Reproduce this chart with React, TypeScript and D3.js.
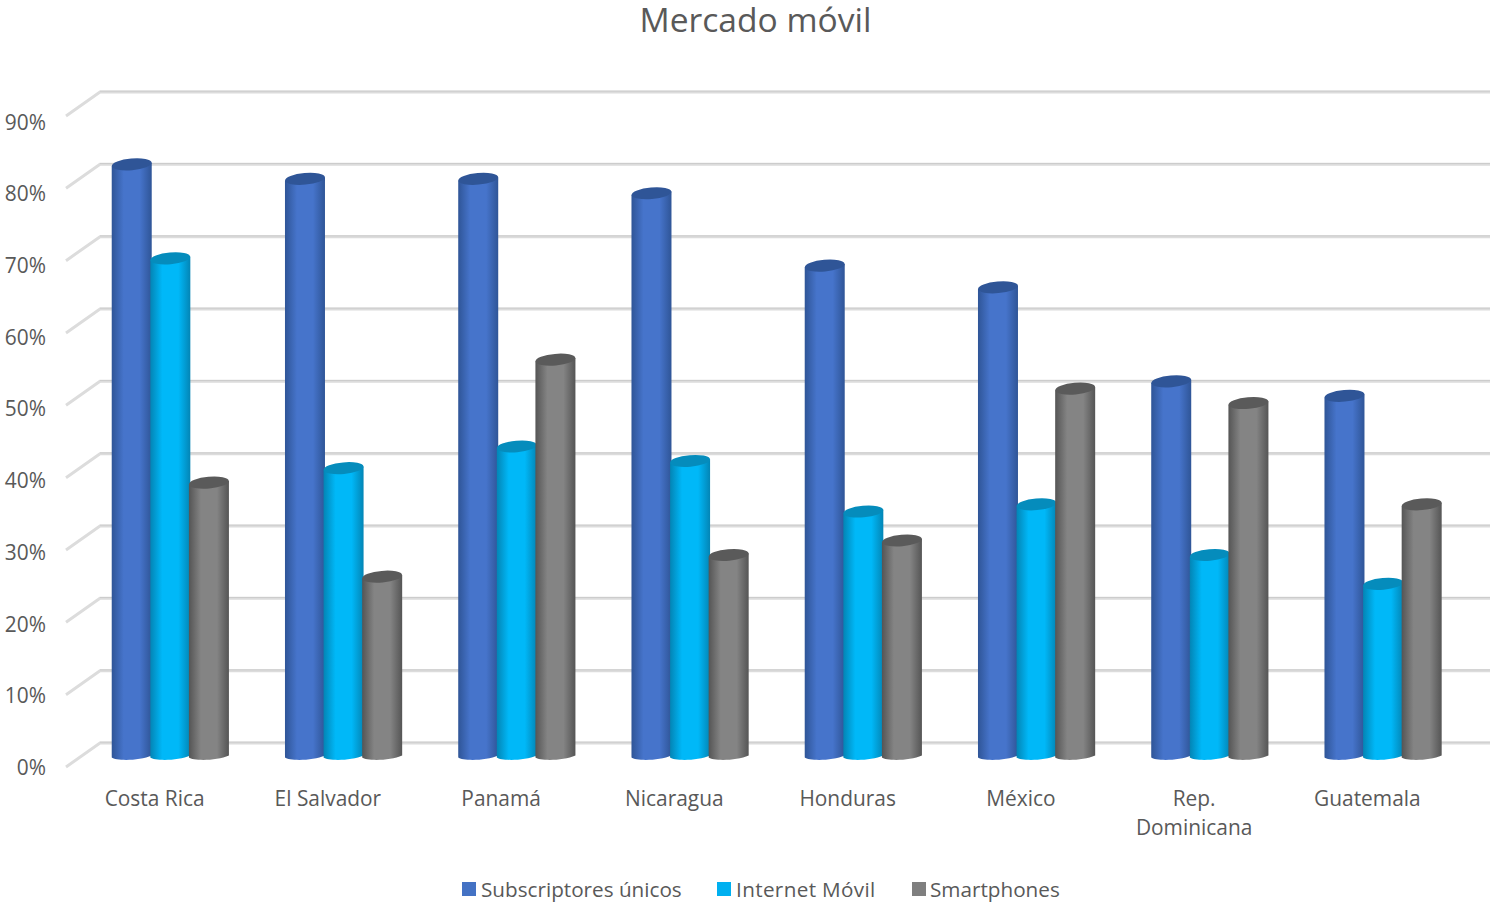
import React from "react";
import * as d3 from "d3";

const categories = ["Costa Rica", "El Salvador", "Panamá", "Nicaragua", "Honduras", "México", "Rep. Dominicana", "Guatemala"];
const subscriptores = [82, 80, 80, 78, 68, 65, 52, 50];
const internetMovil = [69, 40, 43, 41, 34, 35, 28, 24];
const smartphones = [38, 25, 55, 28, 30, 51, 49, 35];
const seriesNames = ["Subscriptores únicos", "Internet Móvil", "Smartphones"];
const seriesValues = [subscriptores, internetMovil, smartphones];
const yTicks = [0, 10, 20, 30, 40, 50, 60, 70, 80, 90];

const palette = [
  { main: "#4674cb", dark: "#2f5597", top: "#2f5597" },
  { main: "#00b8f8", dark: "#0385b5", top: "#058cbc" },
  { main: "#848484", dark: "#555555", top: "#5a5a5a" },
];

const FONT = "'Open Sans', 'Noto Sans', sans-serif";
const TEXT = "#595959";
const W = 1493, H = 903;

// back wall scale
const yWall = d3.scaleLinear().domain([0, 90]).range([743, 92]);
// scale at the depth of the columns
const yBar = d3.scaleLinear().domain([0, 90]).range([757.5, 106.5]);
// tick label baselines
const yLabel = d3.scaleLinear().domain([0, 90]).range([775.2, 129.5]);
const depthDx = -34, depthDy = 24;

const x0 = d3.scaleBand<string>().domain(categories).range([68, 1454]).paddingInner(0).paddingOuter(0);
const barW = 40;
const barStep = 38.6;
const barShift = 15.7;

function cylinder(x: number, yTop: number, yBottom: number) {
  return `M${x},${yTop + 1.7} L${x},${yBottom}
    C${x + 4},${yBottom + 3.5} ${x + barW - 12},${yBottom + 3.5} ${x + barW},${yBottom - 2}
    L${x + barW},${yTop - 1.7} Z`;
}

export default function App() {
  return (
    <svg width={W} height={H} viewBox={`0 0 ${W} ${H}`} style={{ position: "absolute", left: 0, top: 0, background: "#fff" }}>
      <defs>
        {palette.map((p, i) => (
          <linearGradient key={i} id={`cyl${i}`} x1="0" x2="1" y1="0" y2="0">
            <stop offset="0" stopColor={p.dark} />
            <stop offset="0.3" stopColor={p.main} />
            <stop offset="0.7" stopColor={p.main} />
            <stop offset="1" stopColor={p.dark} />
          </linearGradient>
        ))}
      </defs>

      <text x={755.5} y={32} textAnchor="middle" fontFamily={FONT} fontSize={33.6} fill={TEXT}>Mercado móvil</text>

      {yTicks.map((t) => {
        const y = yWall(t);
        return (
          <g key={t}>
            <polyline points={`${100 + depthDx},${y + depthDy} 100,${y} 1490,${y}`} fill="none" stroke="#dcdcdc" strokeWidth={3} />
            <line x1={100} x2={1490} y1={y - 0.8} y2={y - 0.8} stroke="#cccccc" strokeWidth={1} />
            <text x={46} y={yLabel(t)} textAnchor="end" fontFamily={FONT} fontSize={20.9} fill={TEXT}>{t}%</text>
          </g>
        );
      })}

      {categories.map((c, ci) => {
        const gx = (x0(c) as number) + x0.bandwidth() / 2 - (barW + 2 * barStep) / 2 + barShift;
        return (
          <g key={c}>
            {seriesValues.map((vals, si) => {
              const x = gx + si * barStep;
              const yT = yBar(vals[ci]);
              const cx = x + barW / 2;
              return (
                <g key={si}>
                  <path d={cylinder(x, yT, yBar(0))} fill={`url(#cyl${si})`} />
                  <ellipse cx={cx} cy={yT} rx={barW / 2} ry={5.8} transform={`rotate(-5 ${cx} ${yT})`} fill={palette[si].top} />
                </g>
              );
            })}
          </g>
        );
      })}

      {categories.map((c) => {
        const cx = (x0(c) as number) + x0.bandwidth() / 2;
        const parts = c === "Rep. Dominicana" ? ["Rep.", "Dominicana"] : [c];
        return (
          <text key={c} textAnchor="middle" fontFamily={FONT} fontSize={20.9} fill={TEXT}>
            {parts.map((p, i) => (
              <tspan key={p} x={cx} y={806 + i * 29}>{p}</tspan>
            ))}
          </text>
        );
      })}

      {seriesNames.map((n, i) => {
        const lx = [462, 717, 912][i];
        return (
          <g key={n}>
            <rect x={lx} y={882} width={14} height={14} fill={["#4472c4", "#00b0f0", "#7f7f7f"][i]} />
            <text x={lx + (i === 2 ? 18 : 19)} y={897} fontFamily={FONT} fontSize={20.7} fill={TEXT} letterSpacing={i === 1 ? 0.35 : 0}>{n}</text>
          </g>
        );
      })}
    </svg>
  );
}
